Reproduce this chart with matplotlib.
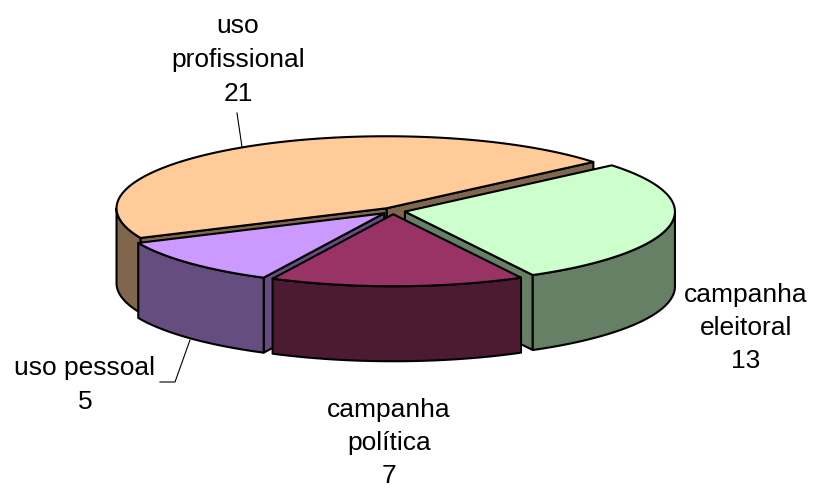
import numpy as np
import matplotlib.pyplot as plt
from matplotlib.patches import Polygon

labels = ['uso\nprofissional', 'campanha\neleitoral', 'campanha\npolítica', 'uso pessoal']
values = [21, 13, 7, 5]
top_colors = ['#FFCC99', '#CCFFCC', '#993366', '#CC99FF']
side_colors = ['#80664D', '#668066', '#4D1A33', '#664D80']

# label anchors: x centre, first baseline, line step (pixels)
label_pos = [(238, 33, 34), (746, 302, 33), (389, 417, 33), (85, 375, 34)]

cx, cy = 393, 211
rx, ry = 270, 72
depth = 75
explode = 0.045
start = 40 + 360 * values[0] / sum(values)

plt.rcParams['font.family'] = ['Liberation Sans', 'DejaVu Sans']

fig = plt.figure(figsize=(8.14, 4.88), dpi=100)
ax = fig.add_axes([0, 0, 1, 1])
ax.set_xlim(0, 814)
ax.set_ylim(488, 0)
ax.axis('off')


def pt(t, ox, oy):
    r = np.radians(t)
    return (cx + ox + rx * np.cos(r), cy + oy - ry * np.sin(r))


walls = []
tops = []
a1 = start
for val, tc, sc in zip(values, top_colors, side_colors):
    a2 = a1 - 360 * val / sum(values)
    mid = np.radians((a1 + a2) / 2)
    ox, oy = explode * rx * np.cos(mid), -explode * ry * np.sin(mid)
    c = (cx + ox, cy + oy)
    arc = [pt(t, ox, oy) for t in np.linspace(a1, a2, 200)]
    tops.append(([c] + arc, tc))

    # flat sides that face the viewer
    for a, n in ((a1, a1 + 90), (a2, a2 - 90)):
        if np.sin(np.radians(n)) < 0:
            p = pt(a, ox, oy)
            poly = [c, p, (p[0], p[1] + depth), (c[0], c[1] + depth)]
            walls.append((poly, sc))

    # curved outer wall, front half only
    for lo, hi in ((-180, 0), (180, 360)):
        l, h = max(lo, a2), min(hi, a1)
        if l < h:
            up = [pt(t, ox, oy) for t in np.linspace(h, l, 150)]
            down = [(x, y + depth) for x, y in up[::-1]]
            walls.append((up + down, sc))
    a1 = a2

walls.sort(key=lambda w: np.mean([p[1] for p in w[0][:len(w[0]) // 2 or 1]]))
z = 1
for poly, col in walls:
    ax.add_patch(Polygon(poly, closed=True, facecolor=col, edgecolor='black',
                         lw=1.5, joinstyle='round', zorder=z))
    z += 1
for poly, col in tops:
    ax.add_patch(Polygon(poly, closed=True, facecolor=col, edgecolor='black',
                         lw=1.5, joinstyle='round', zorder=z))
    z += 1

# leader lines
ax.plot([237, 242], [113, 147], color='black', lw=0.8, zorder=z)
ax.plot([160, 175, 190], [382, 382, 340], color='black', lw=0.8, zorder=z)

for lab, val, (x, y0, step) in zip(labels, values, label_pos):
    lines = lab.split('\n') + [str(val)]
    for i, s in enumerate(lines):
        ax.text(x, y0 + i * step, s, ha='center', va='baseline', fontsize=19,
                color='black', zorder=z + 1)

fig.savefig('out.png', dpi=100)
